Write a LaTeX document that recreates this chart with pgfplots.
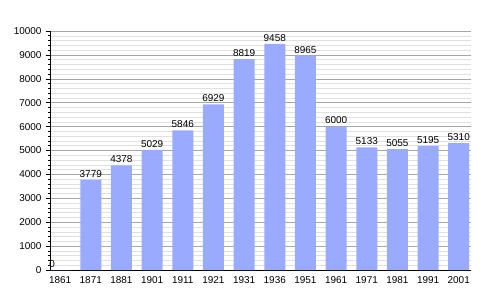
\documentclass[border=0pt]{standalone}
\usepackage{fontspec}
\setmainfont{Liberation Sans}
\usepackage{pgfplots}
\pgfplotsset{compat=1.18}
\definecolor{barblue}{HTML}{99AAFF}
\begin{document}
\begin{tikzpicture}[x=1bp,y=1bp]
\useasboundingbox (-50,-30) rectangle (450,270);
\begin{axis}[
  at={(0,0)}, anchor=south west,
  scale only axis, width=421bp, height=239bp,
  ymin=0, ymax=10000,
  xmin=-0.33, xmax=13.4,
  ytick={0,1000,...,10000},
  minor y tick num=4,
  ymajorgrids, yminorgrids,
  major grid style={draw=black!35, line width=0.6pt},
  minor grid style={draw=black!12, line width=0.5pt},
  axis x line*=bottom, axis y line*=left,
  axis line style={black, line width=0.8pt, -},
  xtick={0,...,13},
  xticklabels={1861,1871,1881,1901,1911,1921,1931,1936,1951,1961,1971,1981,1991,2001},
  x tick style={draw=none},
  y tick style={black, line width=0.6pt},
  major tick length=4bp, minor tick length=2bp,
  tick align=outside,
  ytick pos=left,
  scaled y ticks=false,
  /pgf/number format/assume math mode=true,
  /pgf/number format/1000 sep={},
  tick label style={font=\fontsize{10}{11}\selectfont},
  xticklabel style={yshift=1bp},
  yticklabel style={xshift=-1bp},
  ybar, bar width=21bp, bar shift=0pt,
  nodes near coords,
  every node near coord/.append style={font=\fontsize{10}{11}\selectfont, black, yshift=-1bp},
]
\addplot[fill=barblue, draw=none] coordinates {
(1,3779) (2,4378) (3,5029) (4,5846) (5,6929) (6,8819) (7,9458)
(8,8965) (9,6000) (10,5133) (11,5055) (12,5195) (13,5310)};
\addplot[fill=barblue, draw=none, every node near coord/.append style={xshift=-8bp}] coordinates {(0,0)};
\end{axis}
\end{tikzpicture}
\end{document}
